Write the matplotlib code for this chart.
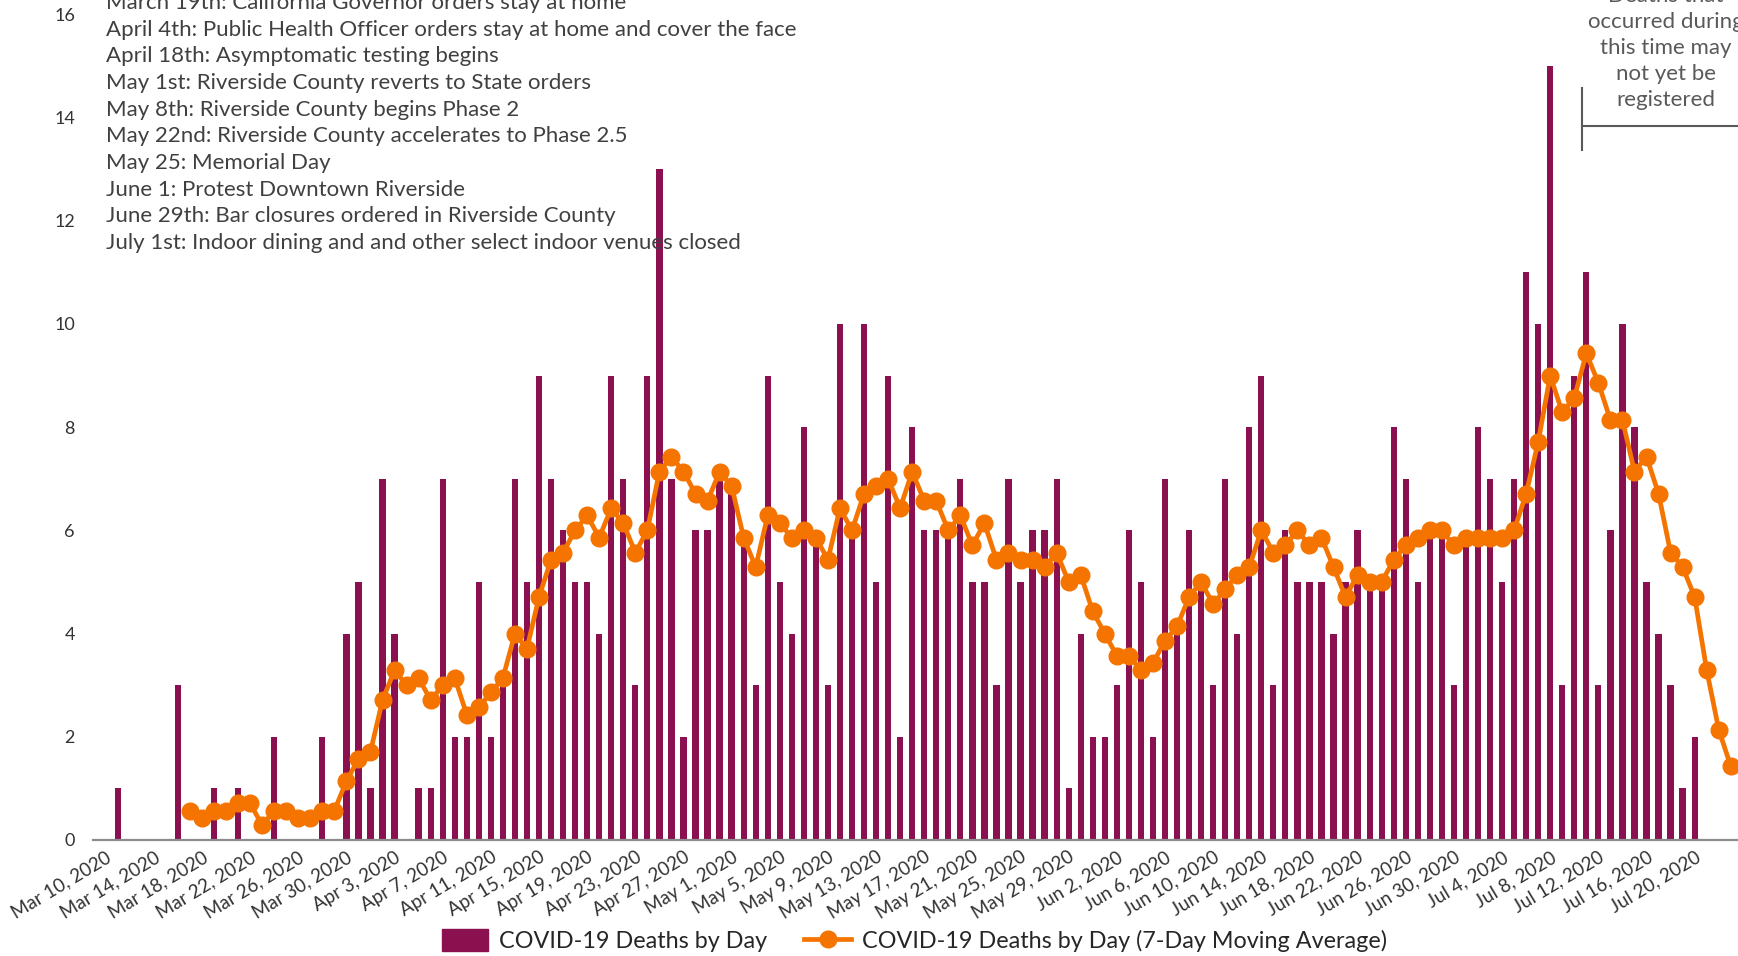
import numpy as np
import pandas as pd
import matplotlib
matplotlib.use("Agg")
import matplotlib.pyplot as plt
from matplotlib.lines import Line2D
from matplotlib.patches import Patch

plt.rcParams["font.family"] = ["Lato", "DejaVu Sans"]

# daily deaths, one value per day starting at first_day
first_day = "2020-03-11"
deaths = [1, 0, 0, 0, 0, 3, 0, 0, 1, 0,
          1, 0, 0, 2, 0, 0, 0, 2, 0, 4,
          5, 1, 7, 4, 0, 1, 1, 7, 2, 2,
          5, 2, 3, 7, 5, 9, 7, 6, 5, 5,
          4, 9, 7, 3, 9, 13, 7, 2, 6, 6,
          7, 7, 6, 3, 9, 5, 4, 8, 6, 3,
          10, 6, 10, 5, 9, 2, 8, 6, 6, 6,
          7, 5, 5, 3, 7, 5, 6, 6, 7, 1,
          4, 2, 2, 3, 6, 5, 2, 7, 4, 6,
          5, 3, 7, 4, 8, 9, 3, 6, 5, 5,
          5, 4, 5, 6, 5, 5, 8, 7, 5, 6,
          6, 3, 6, 8, 7, 5, 7, 11, 10, 15,
          3, 9, 11, 3, 6, 10, 8, 5, 4, 3,
          1, 2, 0, 0, 0]

# 7-day moving average
ma_first_day = "2020-03-17"
moving_avg = [0.57, 0.43, 0.57, 0.57, 0.71, 0.71, 0.29, 0.57, 0.57, 0.43,
              0.43, 0.57, 0.57, 1.14, 1.57, 1.71, 2.71, 3.29, 3.00, 3.14,
              2.71, 3.00, 3.14, 2.43, 2.57, 2.86, 3.14, 4.00, 3.71, 4.71,
              5.43, 5.57, 6.00, 6.29, 5.86, 6.43, 6.14, 5.57, 6.00, 7.14,
              7.43, 7.14, 6.71, 6.57, 7.14, 6.86, 5.86, 5.29, 6.29, 6.14,
              5.86, 6.00, 5.86, 5.43, 6.43, 6.00, 6.71, 6.86, 7.00, 6.43,
              7.14, 6.57, 6.57, 6.00, 6.29, 5.71, 6.14, 5.43, 5.57, 5.43,
              5.43, 5.29, 5.57, 5.00, 5.14, 4.43, 4.00, 3.57, 3.57, 3.29,
              3.43, 3.86, 4.14, 4.71, 5.00, 4.57, 4.86, 5.14, 5.29, 6.00,
              5.57, 5.71, 6.00, 5.71, 5.86, 5.29, 4.71, 5.14, 5.00, 5.00,
              5.43, 5.71, 5.86, 6.00, 6.00, 5.71, 5.86, 5.86, 5.86, 5.86,
              6.00, 6.71, 7.71, 9.00, 8.29, 8.57, 9.43, 8.86, 8.14, 8.14,
              7.14, 7.43, 6.71, 5.57, 5.29, 4.71, 3.29, 2.14, 1.43]

tick_labels = ["Mar 10, 2020", "Mar 14, 2020", "Mar 18, 2020", "Mar 22, 2020",
               "Mar 26, 2020", "Mar 30, 2020", "Apr 3, 2020", "Apr 7, 2020",
               "Apr 11, 2020", "Apr 15, 2020", "Apr 19, 2020", "Apr 23, 2020",
               "Apr 27, 2020", "May 1, 2020", "May 5, 2020", "May 9, 2020",
               "May 13, 2020", "May 17, 2020", "May 21, 2020", "May 25, 2020",
               "May 29, 2020", "Jun 2, 2020", "Jun 6, 2020", "Jun 10, 2020",
               "Jun 14, 2020", "Jun 18, 2020", "Jun 22, 2020", "Jun 26, 2020",
               "Jun 30, 2020", "Jul 4, 2020", "Jul 8, 2020", "Jul 12, 2020",
               "Jul 16, 2020", "Jul 20, 2020"]

events = ["March 19th: California Governor orders stay at home",
          "April 4th: Public Health Officer orders stay at home and cover the face",
          "April 18th: Asymptomatic testing begins",
          "May 1st: Riverside County reverts to State orders",
          "May 8th: Riverside County begins Phase 2",
          "May 22nd: Riverside County accelerates to Phase 2.5",
          "May 25: Memorial Day",
          "June 1: Protest Downtown Riverside",
          "June 29th: Bar closures ordered in Riverside County",
          "July 1st: Indoor dining and and other select indoor venues closed"]

note_lines = ["Deaths that", "occurred during", "this time may",
              "not yet be", "registered"]

series_names = ["COVID-19 Deaths by Day",
                "COVID-19 Deaths by Day (7-Day Moving Average)"]

BAR = "#8A1050"
ORANGE = "#F57400"
TEXT = "#404040"

W, H = 1738, 956
fig = plt.figure(figsize=(W / 100, H / 100), dpi=100)
ax = fig.add_axes([93 / W, 1 - 840 / H, 1 - 93 / W, (840 - 14.4) / H])

days = pd.date_range(first_day, periods=len(deaths))
ma_days = pd.date_range(ma_first_day, periods=len(moving_avg))
start = pd.Timestamp(first_day)

ax.bar(days, deaths, width=0.52, color=BAR, zorder=2)
ax.plot(ma_days, moving_avg, color=ORANGE, lw=3.4, marker="o", ms=12, zorder=3)

ax.set_xlim(start - pd.Timedelta(days=2.05), start + pd.Timedelta(days=134.6))
ax.set_ylim(0, 16)
ax.set_yticks(np.arange(0, 17, 2))
ax.tick_params(axis="y", length=0, pad=13, labelsize=13, labelcolor="#333333")

ax.set_xticks(pd.to_datetime(tick_labels, format="%b %d, %Y"))
ax.set_xticklabels(tick_labels, rotation=31, ha="right", va="top",
                   rotation_mode="anchor", fontsize=13.5, color="#333333")
ax.tick_params(axis="x", length=0, pad=6)

for s in ["top", "right", "left"]:
    ax.spines[s].set_visible(False)
ax.spines["bottom"].set_color("#8c8c8c")
ax.spines["bottom"].set_linewidth(1.6)

# bracket for the "not yet registered" period
bx = start + pd.Timedelta(days=121.64)
ax.plot([bx, bx], [13.37, 14.57], color="#595959", lw=1.5, clip_on=False)
ax.plot([bx, start + pd.Timedelta(days=140)], [13.84, 13.84], color="#595959",
        lw=1.5, clip_on=True)
for i, line in enumerate(note_lines):
    fig.text(1666 / W, 1 - (-3.5 + 26 * i) / H, line, ha="center", va="center",
             fontsize=16, color="#595959")

for i, line in enumerate(events):
    fig.text(106 / W, 1 - (3.3 + 26.6 * i) / H, line, ha="left", va="center",
             fontsize=16, color=TEXT)

handles = [Patch(color=BAR),
           Line2D([], [], color=ORANGE, lw=3.4, marker="o", ms=12)]
fig.legend(handles, series_names, loc="center", bbox_to_anchor=(0.526, 0.016),
           ncol=2, frameon=False, fontsize=16.8, handlelength=2.0, handleheight=1.05,
           handletextpad=0.45, columnspacing=1.6, labelcolor="#262626")

fig.savefig("out.png", dpi=100)
